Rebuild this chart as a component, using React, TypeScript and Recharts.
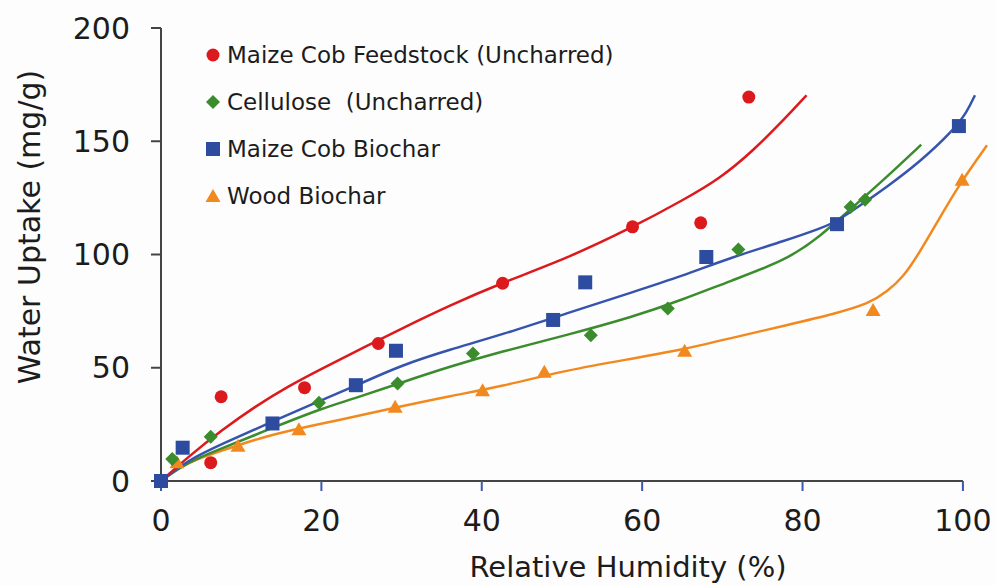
import React from "react";
import {
  ComposedChart,
  Line,
  Scatter,
  XAxis,
  YAxis,
  Legend,
  Label,
  ReferenceLine,
} from "recharts";

// measured points
const feedstockPoints = [
  { x: 6.2, y: 8.1 },
  { x: 7.5, y: 37.2 },
  { x: 17.9, y: 41.2 },
  { x: 27.1, y: 60.7 },
  { x: 42.6, y: 87.3 },
  { x: 58.8, y: 112.2 },
  { x: 67.3, y: 114 },
  { x: 73.3, y: 169.5 },
];

const cellulosePoints = [
  { x: 1.4, y: 9.7 },
  { x: 6.2, y: 19.5 },
  { x: 19.7, y: 34.5 },
  { x: 29.5, y: 43.1 },
  { x: 38.9, y: 56.3 },
  { x: 53.6, y: 64.4 },
  { x: 63.2, y: 76.2 },
  { x: 72, y: 102.2 },
  { x: 86, y: 121 },
  { x: 87.8, y: 124.2 },
];

const cobBiocharPoints = [
  { x: 0, y: 0 },
  { x: 2.7, y: 14.7 },
  { x: 13.9, y: 25.4 },
  { x: 24.3, y: 42.3 },
  { x: 29.3, y: 57.5 },
  { x: 48.9, y: 71.1 },
  { x: 52.9, y: 87.7 },
  { x: 68, y: 98.9 },
  { x: 84.3, y: 113.4 },
  { x: 99.5, y: 156.7 },
];

const woodPoints = [
  { x: 2.0, y: 8.3 },
  { x: 9.6, y: 15.6 },
  { x: 17.2, y: 22.9 },
  { x: 29.2, y: 32.8 },
  { x: 40.1, y: 40.1 },
  { x: 47.8, y: 48.2 },
  { x: 65.3, y: 57.5 },
  { x: 88.8, y: 75.5 },
  { x: 99.9, y: 133 },
];

// fitted curves
const feedstockCurve = [
  { x: 0, y: 0 },
  { x: 3.4, y: 10.7 },
  { x: 7.6, y: 22.5 },
  { x: 11.7, y: 32.8 },
  { x: 15.9, y: 41.9 },
  { x: 20, y: 49.5 },
  { x: 25, y: 58.5 },
  { x: 30, y: 67.3 },
  { x: 36, y: 77.5 },
  { x: 42.3, y: 87.2 },
  { x: 50.6, y: 98.2 },
  { x: 58.9, y: 112.2 },
  { x: 65.1, y: 124 },
  { x: 69.7, y: 133.5 },
  { x: 73.9, y: 146 },
  { x: 78, y: 160.7 },
  { x: 80.5, y: 170.3 },
];

const celluloseCurve = [
  { x: 0, y: 0 },
  { x: 3.4, y: 8.5 },
  { x: 7.6, y: 14.4 },
  { x: 11.7, y: 20.3 },
  { x: 15, y: 25 },
  { x: 20, y: 32 },
  { x: 24.2, y: 36.5 },
  { x: 30, y: 43.5 },
  { x: 36, y: 50.5 },
  { x: 42.3, y: 57 },
  { x: 50.6, y: 64.4 },
  { x: 58.9, y: 72.5 },
  { x: 65, y: 80 },
  { x: 70.9, y: 88.2 },
  { x: 78, y: 97.5 },
  { x: 82.2, y: 108 },
  { x: 86.3, y: 121 },
  { x: 90.5, y: 134.2 },
  { x: 94.8, y: 148.5 },
];

const cobBiocharCurve = [
  { x: 0, y: 0 },
  { x: 3.4, y: 9.3 },
  { x: 7.6, y: 16.3 },
  { x: 13.8, y: 26.2 },
  { x: 20, y: 35.7 },
  { x: 24.2, y: 41.9 },
  { x: 30, y: 51.2 },
  { x: 36, y: 58 },
  { x: 42.3, y: 64.4 },
  { x: 50.6, y: 74 },
  { x: 58.9, y: 83.5 },
  { x: 65, y: 90.5 },
  { x: 70.9, y: 98.5 },
  { x: 78, y: 106.3 },
  { x: 82.2, y: 111.5 },
  { x: 84.2, y: 114.4 },
  { x: 87.2, y: 121.7 },
  { x: 90.5, y: 129.8 },
  { x: 94.6, y: 140.8 },
  { x: 98.8, y: 154.8 },
  { x: 100.5, y: 162.9 },
  { x: 101.5, y: 170.3 },
];

const woodCurve = [
  { x: 0, y: 0 },
  { x: 2, y: 5.5 },
  { x: 5, y: 10.5 },
  { x: 9.6, y: 15.8 },
  { x: 13.8, y: 20.5 },
  { x: 20, y: 25.4 },
  { x: 24.2, y: 28.4 },
  { x: 30, y: 33 },
  { x: 36, y: 37.5 },
  { x: 42.3, y: 41.6 },
  { x: 50.6, y: 49 },
  { x: 58.9, y: 54.1 },
  { x: 65, y: 58 },
  { x: 70.9, y: 62.9 },
  { x: 78, y: 68.8 },
  { x: 84.2, y: 74 },
  { x: 88.3, y: 78.4 },
  { x: 90.5, y: 83.5 },
  { x: 92.6, y: 90.1 },
  { x: 94.6, y: 101 },
  { x: 96.7, y: 113.7 },
  { x: 99.6, y: 131.3 },
  { x: 103, y: 148.2 },
];

const xTicks = [0, 20, 40, 60, 80, 100];
const yTicks = [0, 50, 100, 150, 200];

const RED = "#dc1a1e";
const GREEN = "#3a8c2c";
const BLUE = "#2d4c9f";
const ORANGE = "#f2891f";
const INK = "#1c1c1c";
const AXIS = "#444444";

const series = [
  { name: "Maize Cob Feedstock (Uncharred)", color: RED, marker: "circle" },
  { name: "Cellulose  (Uncharred)", color: GREEN, marker: "diamond" },
  { name: "Maize Cob Biochar", color: BLUE, marker: "square" },
  { name: "Wood Biochar", color: ORANGE, marker: "triangle" },
];

function Marker({ kind, cx, cy, color }: { kind: string; cx: number; cy: number; color: string }) {
  if (kind === "circle") return <circle cx={cx} cy={cy} r={6.5} fill={color} />;
  if (kind === "square") return <rect x={cx - 7} y={cy - 7} width={14} height={14} fill={color} />;
  if (kind === "diamond")
    return (
      <path
        d={`M${cx},${cy - 7}L${cx + 7},${cy}L${cx},${cy + 7}L${cx - 7},${cy}Z`}
        fill={color}
      />
    );
  return (
    <path d={`M${cx},${cy - 7}L${cx + 7.5},${cy + 6}L${cx - 7.5},${cy + 6}Z`} fill={color} />
  );
}

const shapeFor = (kind: string, color: string) => (props: any) =>
  <Marker kind={kind} cx={props.cx} cy={props.cy} color={color} />;

function LegendBox() {
  return (
    <div style={{ fontFamily: "DejaVu Sans", fontSize: 23, color: INK }}>
      {series.map((s) => (
        <div
          key={s.name}
          style={{ display: "flex", alignItems: "center", height: 47, whiteSpace: "pre" }}
        >
          <svg width={16} height={16} style={{ marginRight: 6 }}>
            <Marker kind={s.marker} cx={8} cy={8} color={s.color} />
          </svg>
          <span>{s.name}</span>
        </div>
      ))}
    </div>
  );
}

const xTitle = ({ viewBox }: any) => (
  <text
    x={628}
    y={viewBox.y + 96}
    textAnchor="middle"
    fontSize={29}
    fill={INK}
    fontFamily="DejaVu Sans"
  >
    Relative Humidity (%)
  </text>
);

const yTitle = () => (
  <text
    transform="translate(40,227) rotate(-90)"
    textAnchor="middle"
    fontSize={30}
    fill={INK}
    fontFamily="DejaVu Sans"
  >
    Water Uptake (mg/g)
  </text>
);

export default function App() {
  return (
    <div
      style={{
        position: "absolute",
        left: 0,
        top: 0,
        width: 996,
        height: 585,
        background: "#fdfdfd",
        overflow: "hidden",
      }}
    >
      <ComposedChart
        width={996}
        height={585}
        margin={{ top: 28, right: 1, bottom: 0, left: 0 }}
        style={{ fontFamily: "DejaVu Sans" }}
      >
        <XAxis
          type="number"
          dataKey="x"
          domain={[0, 104]}
          ticks={xTicks}
          height={104}
          axisLine={false}
          tickLine={{ stroke: "#3a5aae", strokeWidth: 2 }}
          tickSize={10}
          tickMargin={19}
          tick={{ fontSize: 30, fill: INK }}
          interval={0}
        >
          <Label content={xTitle} />
        </XAxis>
        <YAxis
          type="number"
          dataKey="y"
          domain={[0, 200]}
          ticks={yTicks}
          width={161}
          axisLine={{ stroke: AXIS, strokeWidth: 2 }}
          tickLine={{ stroke: AXIS, strokeWidth: 2 }}
          tickSize={10}
          tickMargin={21}
          tick={{ fontSize: 30, fill: INK }}
          interval={0}
        >
          <Label content={yTitle} />
        </YAxis>
        <ReferenceLine
          segment={[
            { x: 0, y: 0 },
            { x: 100, y: 0 },
          ]}
          stroke={AXIS}
          strokeWidth={2}
        />
        <Line data={woodCurve} dataKey="y" type="basis" stroke={ORANGE} strokeWidth={2.5} dot={false} isAnimationActive={false} />
        <Line data={celluloseCurve} dataKey="y" type="basis" stroke={GREEN} strokeWidth={2.5} dot={false} isAnimationActive={false} />
        <Line data={cobBiocharCurve} dataKey="y" type="basis" stroke="#3654ae" strokeWidth={2.5} dot={false} isAnimationActive={false} />
        <Line data={feedstockCurve} dataKey="y" type="basis" stroke={RED} strokeWidth={2.5} dot={false} isAnimationActive={false} />
        <Scatter data={woodPoints} shape={shapeFor("triangle", ORANGE)} isAnimationActive={false} />
        <Scatter data={feedstockPoints} shape={shapeFor("circle", RED)} isAnimationActive={false} />
        <Scatter data={cellulosePoints} shape={shapeFor("diamond", GREEN)} isAnimationActive={false} />
        <Scatter data={cobBiocharPoints} shape={shapeFor("square", BLUE)} isAnimationActive={false} />
        <Legend
          layout="vertical"
          align="center"
          verticalAlign="middle"
          content={() => <LegendBox />}
          wrapperStyle={{ left: 205, top: 31, width: 500 }}
        />
      </ComposedChart>
    </div>
  );
}
